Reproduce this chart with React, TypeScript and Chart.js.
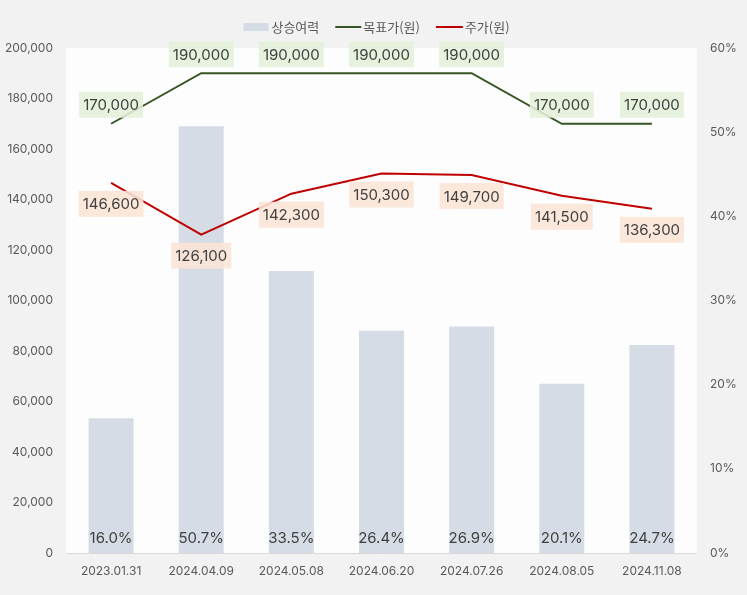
import React, { useEffect, useRef } from "react";
import { Chart, registerables } from "chart.js";

Chart.register(...registerables);

const categories = ["2023.01.31", "2024.04.09", "2024.05.08", "2024.06.20", "2024.07.26", "2024.08.05", "2024.11.08"];
const upside = [16.0, 50.7, 33.5, 26.4, 26.9, 20.1, 24.7];
const targetPrice = [170000, 190000, 190000, 190000, 190000, 170000, 170000];
const stockPrice = [146600, 126100, 142300, 150300, 149700, 141500, 136300];
const seriesNames = ["상승여력", "목표가(원)", "주가(원)"];

const BAR_COLOR = "#d6dce5";
const GREEN = "#375623";
const RED = "#c00000";
const TEXT = "#404040";
const TICK = "#595959";
const NUM_FONT = "Inter, 'Noto Sans', sans-serif";
const KR_FONT = "'Noto Sans CJK KR', 'Noto Sans', sans-serif";

const fmt = (v: number) => v.toLocaleString("en-US");

const customPlugin = {
  id: "custom",
  beforeDatasetsDraw(chart: any) {
    const { ctx, chartArea } = chart;
    ctx.save();
    ctx.fillStyle = "#fdfdfd";
    ctx.fillRect(chartArea.left, chartArea.top, chartArea.right - chartArea.left, chartArea.bottom - chartArea.top);
    ctx.strokeStyle = "#d9d9d9";
    ctx.lineWidth = 1;
    ctx.beginPath();
    ctx.moveTo(chartArea.left, chartArea.bottom + 0.5);
    ctx.lineTo(chartArea.right, chartArea.bottom + 0.5);
    ctx.stroke();
    ctx.restore();
  },
  afterDatasetsDraw(chart: any) {
    const { ctx, chartArea } = chart;
    ctx.save();
    const barMeta = chart.getDatasetMeta(0);
    ctx.font = `15px ${NUM_FONT}`;
    ctx.fillStyle = TEXT;
    ctx.textAlign = "center";
    ctx.textBaseline = "middle";
    barMeta.data.forEach((el: any, i: number) => {
      ctx.fillText(upside[i].toFixed(1) + "%", el.x, chartArea.bottom - 15);
    });
    const drawBoxLabel = (x: number, y: number, text: string, bg: string) => {
      ctx.font = `15px ${NUM_FONT}`;
      const w = ctx.measureText(text).width + 8;
      const h = 26;
      ctx.fillStyle = bg;
      ctx.fillRect(x - w / 2, y - h / 2, w, h);
      ctx.fillStyle = TEXT;
      ctx.textAlign = "center";
      ctx.textBaseline = "middle";
      ctx.fillText(text, x, y + 1);
    };
    const tMeta = chart.getDatasetMeta(1);
    tMeta.data.forEach((el: any, i: number) => {
      drawBoxLabel(el.x, el.y - 19, fmt(targetPrice[i]), "rgba(226,239,218,0.88)");
    });
    const pMeta = chart.getDatasetMeta(2);
    pMeta.data.forEach((el: any, i: number) => {
      drawBoxLabel(el.x, el.y + 21, fmt(stockPrice[i]), "rgba(252,228,214,0.88)");
    });
    ctx.restore();
  },
  afterDraw(chart: any) {
    const { ctx } = chart;
    ctx.save();
    ctx.font = `13px ${KR_FONT}`;
    ctx.textBaseline = "middle";
    ctx.textAlign = "left";
    const y = 27;
    const symW = [25, 26, 27];
    const gapSym = [3, 2, 2];
    const itemGap = 16;
    const widths = seriesNames.map((n, i) => symW[i] + gapSym[i] + ctx.measureText(n).width);
    const total = widths.reduce((a, b) => a + b, 0) + itemGap * (seriesNames.length - 1);
    let x = 376.5 - total / 2;
    seriesNames.forEach((n, i) => {
      if (i === 0) {
        ctx.fillStyle = BAR_COLOR;
        ctx.fillRect(x, y - 4, symW[i], 8);
      } else {
        ctx.strokeStyle = i === 1 ? GREEN : RED;
        ctx.lineWidth = 2;
        ctx.beginPath();
        ctx.moveTo(x, y);
        ctx.lineTo(x + symW[i], y);
        ctx.stroke();
      }
      ctx.fillStyle = TICK;
      ctx.fillText(n, x + symW[i] + gapSym[i], y);
      x += widths[i] + itemGap;
    });
    ctx.restore();
  },
};

export default function App() {
  const ref = useRef<HTMLCanvasElement>(null);
  useEffect(() => {
    if (!ref.current) return;
    const chart = new Chart(ref.current, {
      type: "bar",
      data: {
        labels: categories,
        datasets: [
          {
            type: "bar",
            label: seriesNames[0],
            data: upside,
            backgroundColor: BAR_COLOR,
            yAxisID: "y1",
            barPercentage: 0.5,
            categoryPercentage: 1,
            order: 3,
          },
          {
            type: "line",
            label: seriesNames[1],
            data: targetPrice,
            borderColor: GREEN,
            borderWidth: 2,
            pointRadius: 0,
            tension: 0,
            yAxisID: "y",
            order: 2,
          },
          {
            type: "line",
            label: seriesNames[2],
            data: stockPrice,
            borderColor: RED,
            borderWidth: 2,
            pointRadius: 0,
            tension: 0,
            yAxisID: "y",
            order: 1,
          },
        ] as any,
      },
      options: {
        responsive: false,
        animation: false,
        layout: { padding: { top: 48, left: 0, right: 0, bottom: 0 } },
        plugins: { legend: { display: false }, tooltip: { enabled: false } },
        scales: {
          x: {
            grid: { display: false, drawTicks: false },
            border: { display: false },
            ticks: { color: TICK, font: { family: NUM_FONT, size: 12 }, padding: 11, maxRotation: 0 },
            afterFit: (s: any) => { s.height = 42; },
          },
          y: {
            position: "left",
            min: 0,
            max: 200000,
            grid: { display: false, drawTicks: false },
            border: { display: false },
            ticks: { stepSize: 20000, color: TICK, font: { family: NUM_FONT, size: 12 }, padding: 13, callback: (v: any) => fmt(Number(v)) },
            afterFit: (s: any) => { s.width = 66; },
          },
          y1: {
            position: "right",
            min: 0,
            max: 60,
            grid: { display: false, drawTicks: false },
            border: { display: false },
            ticks: { stepSize: 10, color: TICK, font: { family: NUM_FONT, size: 12 }, padding: 13, callback: (v: any) => v + "%" },
            afterFit: (s: any) => { s.width = 50; },
          },
        },
      },
      plugins: [customPlugin],
    });
    return () => chart.destroy();
  }, []);
  return (
    <div style={{ position: "absolute", left: 0, top: 0, width: 747, height: 595, background: "#f2f2f2" }}>
      <canvas ref={ref} width={747} height={595} style={{ display: "block" }} />
    </div>
  );
}
